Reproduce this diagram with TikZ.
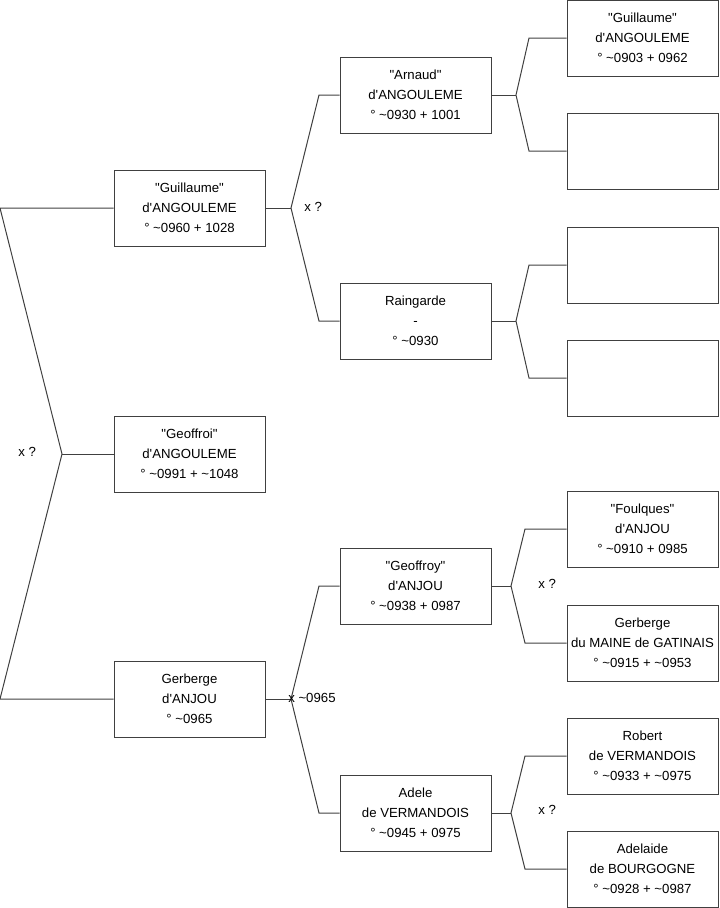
\documentclass[tikz,border=0pt]{standalone}
\usepackage{fontspec}
\setmainfont{Liberation Sans}
\newcommand\ap{\textquotesingle}
\newcommand\qd{\textquotedbl}
\newcommand\tld{\textasciitilde}
\begin{document}
\begin{tikzpicture}[x=0.75pt,y=-0.75pt,
 person/.style={draw=black!75, line width=0.75pt, minimum width=113.25pt, minimum height=57pt, inner sep=0pt, align=center, font=\fontsize{9.9}{15}\selectfont},
 link/.style={draw=black!75, line width=0.75pt},
 lbl/.style={font=\fontsize{9.9}{12}\selectfont, inner sep=0pt, anchor=west}]
\useasboundingbox (0,0) rectangle (719,908);
% column 1
\node[person] (g1) at (189.5,208) {\qd Guillaume\qd\\d\ap ANGOULEME\\° \tld0960 + 1028};
\node[person] (geo) at (189.5,454) {\qd Geoffroi\qd\\d\ap ANGOULEME\\° \tld0991 + \tld1048};
\node[person] (ger) at (189.5,699) {Gerberge\\d\ap ANJOU\\° \tld0965};
% column 2
\node[person] (arn) at (415.5,95) {\qd Arnaud\qd\\d\ap ANGOULEME\\° \tld0930 + 1001};
\node[person] (rai) at (415.5,321) {Raingarde\\-\\° \tld0930};
\node[person] (gfy) at (415.5,586) {\qd Geoffroy\qd\\d\ap ANJOU\\° \tld0938 + 0987};
\node[person] (ade) at (415.5,813) {Adele\\de VERMANDOIS\\° \tld0945 + 0975};
% column 3
\node[person] (gui) at (642.5,38) {\qd Guillaume\qd\\d\ap ANGOULEME\\° \tld0903 + 0962};
\node[person] (e1) at (642.5,151) {};
\node[person] (e2) at (642.5,265) {};
\node[person] (e3) at (642.5,378) {};
\node[person] (fou) at (642.5,529) {\qd Foulques\qd\\d\ap ANJOU\\° \tld0910 + 0985};
\node[person] (gdm) at (642.5,643) {Gerberge\\du MAINE de GATINAIS\\° \tld0915 + \tld0953};
\node[person] (rob) at (642.5,756) {Robert\\de VERMANDOIS\\° \tld0933 + \tld0975};
\node[person] (adl) at (642.5,869) {Adelaide\\de BOURGOGNE\\° \tld0928 + \tld0987};
% fork coordinates
\coordinate (f0) at (62,454);
\coordinate (f0a) at (0,208);
\coordinate (f0b) at (0,699);
\coordinate (f1) at (291,208);
\coordinate (f1a) at (319,95);
\coordinate (f1b) at (319,321);
\coordinate (f2) at (291,699);
\coordinate (f2a) at (319,586);
\coordinate (f2b) at (319,813);
\coordinate (f3) at (516,95);
\coordinate (f3a) at (529,38);
\coordinate (f3b) at (529,151);
\coordinate (f4) at (516,321);
\coordinate (f4a) at (529,265);
\coordinate (f4b) at (529,378);
\coordinate (f5) at (511,586);
\coordinate (f5a) at (525,529);
\coordinate (f5b) at (525,643);
\coordinate (f6) at (511,813);
\coordinate (f6a) at (525,756);
\coordinate (f6b) at (525,869);
% connectors
\draw[link] (g1.west) -- (f0a) -- (f0) -- (f0b) -- (ger.west);
\draw[link] (f0) -- (geo.west);
\draw[link] (g1.east) -- (f1);
\draw[link] (arn.west) -- (f1a) -- (f1) -- (f1b) -- (rai.west);
\draw[link] (ger.east) -- (f2);
\draw[link] (gfy.west) -- (f2a) -- (f2) -- (f2b) -- (ade.west);
\draw[link] (arn.east) -- (f3);
\draw[link] (gui.west) -- (f3a) -- (f3) -- (f3b) -- (e1.west);
\draw[link] (rai.east) -- (f4);
\draw[link] (e2.west) -- (f4a) -- (f4) -- (f4b) -- (e3.west);
\draw[link] (gfy.east) -- (f5);
\draw[link] (fou.west) -- (f5a) -- (f5) -- (f5b) -- (gdm.west);
\draw[link] (ade.east) -- (f6);
\draw[link] (rob.west) -- (f6a) -- (f6) -- (f6b) -- (adl.west);
% labels
\node[lbl] (l0) at (18,452) {x ?};
\node[lbl] (l1) at (304,207) {x ?};
\node[lbl] (l2) at (288,698) {x \tld0965};
\node[lbl] (l5) at (538,584) {x ?};
\node[lbl] (l6) at (538,810) {x ?};
\end{tikzpicture}
\end{document}
